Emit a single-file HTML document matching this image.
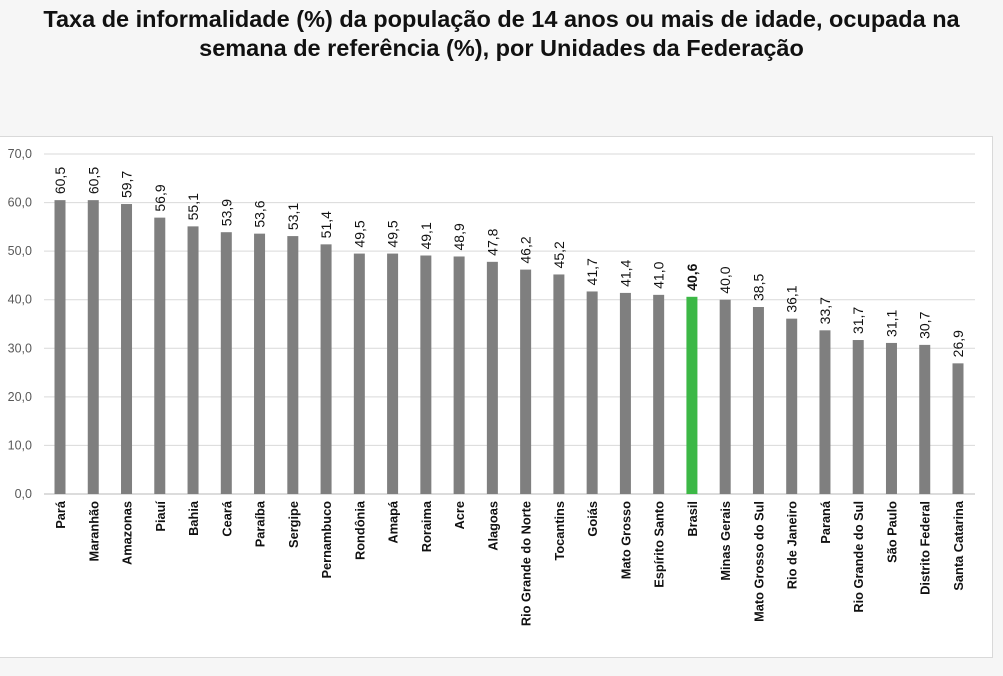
<!DOCTYPE html>
<html><head><meta charset="utf-8"><style>
body{margin:0;width:1003px;height:676px;background:#f6f6f6;font-family:"Liberation Sans",sans-serif;overflow:hidden;position:relative}
h1{position:absolute;top:5px;left:0;width:1003px;margin:0;text-align:center;font-size:23.5px;line-height:29px;font-weight:bold;color:#111;white-space:nowrap}
#panel{position:absolute;left:-2px;top:136px;width:993px;height:520px;background:#fff;border:1px solid #d9d9d9}
svg{position:absolute;left:0;top:0}
</style></head><body>
<h1>Taxa de informalidade (%) da população de 14 anos ou mais de idade, ocupada na<br>semana de referência (%), por Unidades da Federação</h1>
<div id="panel"></div>
<svg id="c" width="1003" height="676"></svg>
<script>
const categories=["Pará","Maranhão","Amazonas","Piauí","Bahia","Ceará","Paraíba","Sergipe","Pernambuco","Rondônia","Amapá","Roraima","Acre","Alagoas","Rio Grande do Norte","Tocantins","Goiás","Mato Grosso","Espírito Santo","Brasil","Minas Gerais","Mato Grosso do Sul","Rio de Janeiro","Paraná","Rio Grande do Sul","São Paulo","Distrito Federal","Santa Catarina"];
const values=[60.5,60.5,59.7,56.9,55.1,53.9,53.6,53.1,51.4,49.5,49.5,49.1,48.9,47.8,46.2,45.2,41.7,41.4,41.0,40.6,40.0,38.5,36.1,33.7,31.7,31.1,30.7,26.9];
const ticks=[0,10,20,30,40,50,60,70];
const NS="http://www.w3.org/2000/svg",svg=document.getElementById('c');
const y=v=>494-v*(340/70);
const x=i=>60+i*(898/27);
function el(t,a){const e=document.createElementNS(NS,t);for(const k in a)e.setAttribute(k,a[k]);svg.appendChild(e);return e;}
ticks.forEach(t=>{
 const l=el('line',{x1:44,x2:975,y1:y(t),y2:y(t),stroke:t?'#d9d9d9':'#d0d0d0','stroke-width':t?1:1.5});
 
 
 const tx=el('text',{x:32,y:y(t)+4,'text-anchor':'end','font-size':12.5,fill:'#595959'});
 tx.textContent=t.toFixed(1).replace('.',',');
 
 
});
categories.forEach((c,i)=>{
 const v=values[i],br=c==='Brasil';
 const r=el('rect',{x:x(i)-5.5,y:y(v),width:11,height:y(0)-y(v),fill:br?'#3cb846':'#7f7f7f'});
 
 
 const vt=el('text',{transform:`translate(${x(i)+5},${y(v)-6}) rotate(-90)`,'font-size':14,fill:'#111','font-weight':br?'bold':'normal'});
 vt.textContent=v.toFixed(1).replace('.',',');
 
 
 const ct=el('text',{transform:`translate(${x(i)+5},${501}) rotate(-90)`,'text-anchor':'end','font-size':12.8,'font-weight':'bold',fill:'#111'});
 ct.textContent=c;
 
 
});
</script>
</body></html>
